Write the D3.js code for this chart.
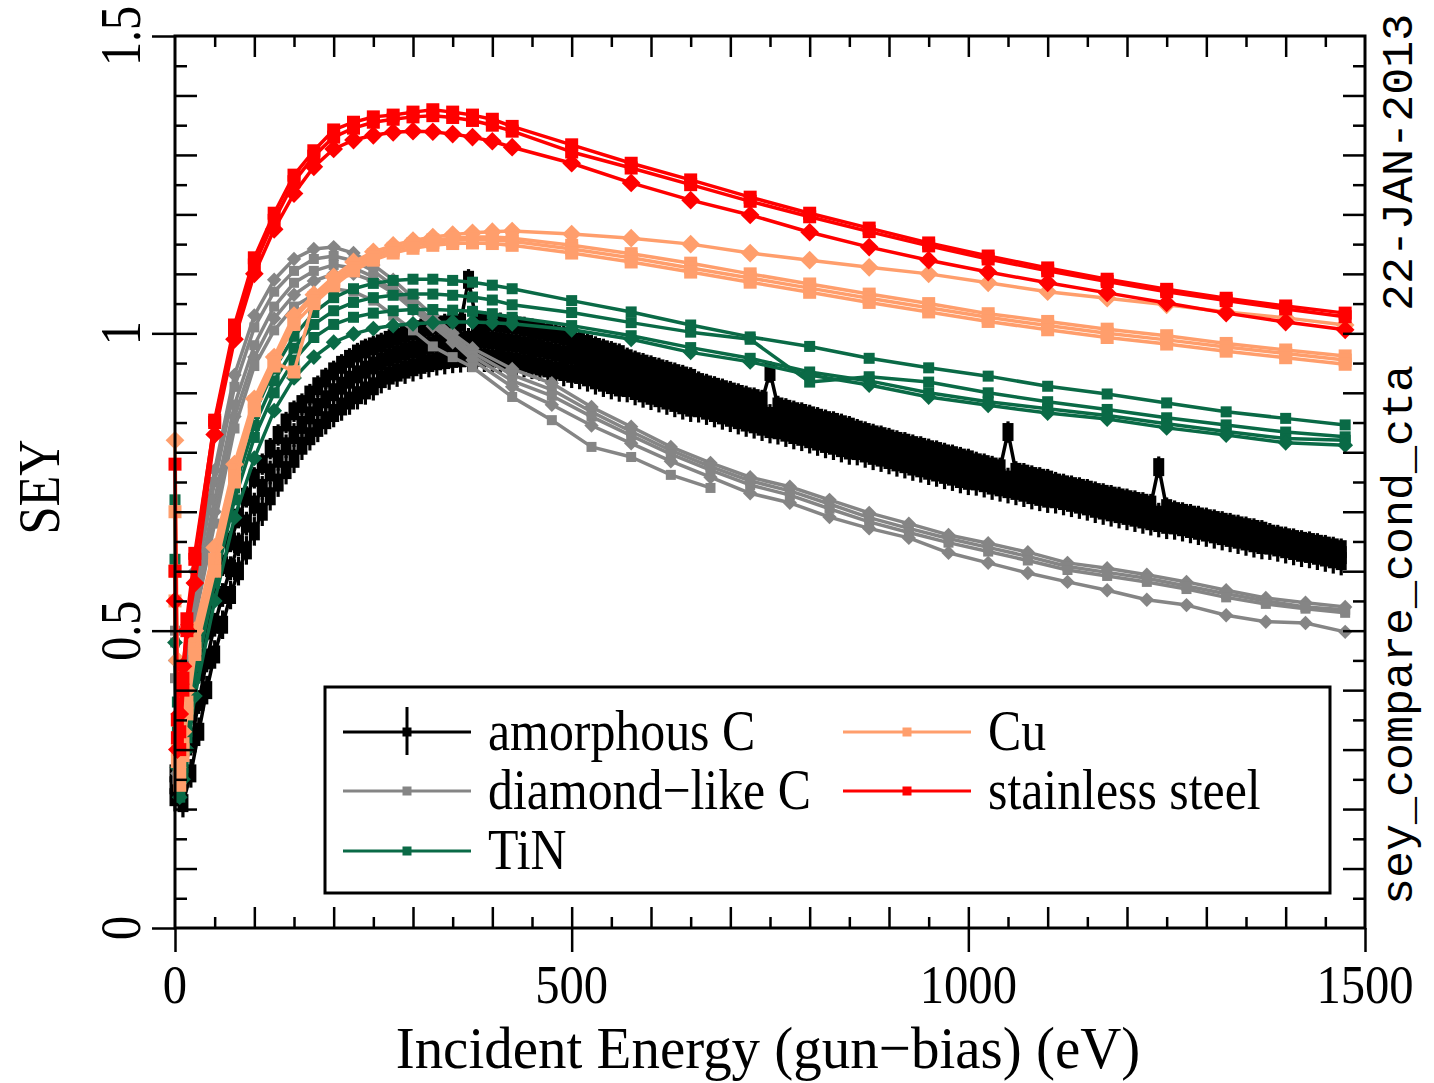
<!DOCTYPE html>
<html lang="en">
<head>
<meta charset="UTF-8" />
<title>SEY comparison</title>
<script src="https://d3js.org/d3.v7.min.js"></script>
<style>
  body { margin: 0; background: #fff; }
  svg { display: block; background: #fff; }
  .serif { font-family: "Liberation Serif", "Times New Roman", serif; fill: #000; }
  .mono { font-family: "Liberation Mono", "DejaVu Sans Mono", monospace; fill: #000; }
</style>
</head>
<body>
<svg id="chart" width="1434" height="1083"></svg>
<script>
// ---- data ----
const xTickLabels = [0, 500, 1000, 1500];
const yTickLabels = [0, 0.5, 1, 1.5];
const legendNames = ["amorphous C", "diamond\u2212like C", "TiN", "Cu", "stainless steel"];

// energies (eV) used by TiN, Cu, stainless steel runs
const energyGrid = [0, 3, 6, 10, 15, 25, 50, 75, 100, 125, 150, 175, 200, 225, 250, 275, 300, 325, 350, 375, 400, 425,
  500, 575, 650, 725, 800, 875, 950, 1025, 1100, 1175, 1250, 1325, 1400, 1475];

const ssRun1 = [0.78, 0.35, 0.30, 0.40, 0.50, 0.62, 0.854, 1.014, 1.127, 1.202, 1.266, 1.307, 1.342, 1.355, 1.364, 1.367, 1.372, 1.376, 1.372, 1.367, 1.36, 1.348,
  1.317, 1.286, 1.258, 1.229, 1.202, 1.177, 1.152, 1.13, 1.11, 1.091, 1.074, 1.059, 1.046, 1.034];
const ssRun2 = [0.6, 0.32, 0.33, 0.42, 0.52, 0.63, 0.85, 1.005, 1.115, 1.19, 1.255, 1.298, 1.33, 1.345, 1.355, 1.36, 1.364, 1.366, 1.363, 1.358, 1.35, 1.34,
  1.305, 1.278, 1.25, 1.222, 1.196, 1.171, 1.147, 1.125, 1.105, 1.087, 1.07, 1.055, 1.041, 1.028];
const ssRun3 = [0.55, 0.3, 0.36, 0.44, 0.5, 0.58, 0.83, 0.99, 1.1, 1.175, 1.235, 1.28, 1.31, 1.325, 1.333, 1.338, 1.34, 1.339, 1.335, 1.33, 1.323, 1.313,
  1.286, 1.253, 1.224, 1.199, 1.17, 1.145, 1.123, 1.103, 1.085, 1.068, 1.051, 1.034, 1.019, 1.006];

const cuRun1 = [0.82, 0.45, 0.3, 0.33, 0.4, 0.5, 0.64, 0.78, 0.89, 0.96, 1.03, 1.065, 1.095, 1.12, 1.137, 1.148, 1.156, 1.162, 1.166, 1.169, 1.171, 1.172,
  1.167, 1.16, 1.15, 1.135, 1.123, 1.111, 1.1, 1.085, 1.07, 1.059, 1.048, 1.036, 1.026, 1.014];
const cuRun2 = [0.7, 0.35, 0.26, 0.3, 0.38, 0.48, 0.62, 0.77, 0.885, 0.955, 1.025, 1.06, 1.09, 1.115, 1.132, 1.143, 1.151, 1.157, 1.16, 1.162, 1.162, 1.16,
  1.148, 1.134, 1.118, 1.1, 1.083, 1.066, 1.05, 1.033, 1.02, 1.007, 0.996, 0.983, 0.972, 0.962];
const cuRun3 = [0.6, 0.3, 0.28, 0.31, 0.37, 0.47, 0.61, 0.76, 0.875, 0.952, 0.935, 1.055, 1.085, 1.11, 1.128, 1.14, 1.148, 1.153, 1.156, 1.158, 1.157, 1.155,
  1.142, 1.127, 1.11, 1.093, 1.076, 1.059, 1.043, 1.027, 1.013, 1.0, 0.989, 0.977, 0.966, 0.955];
const cuRun4 = [0.55, 0.28, 0.24, 0.29, 0.36, 0.46, 0.6, 0.75, 0.87, 0.945, 1.015, 1.05, 1.08, 1.105, 1.123, 1.135, 1.143, 1.148, 1.151, 1.152, 1.151, 1.148,
  1.135, 1.12, 1.103, 1.086, 1.069, 1.052, 1.036, 1.02, 1.006, 0.993, 0.982, 0.97, 0.959, 0.948];

const tinRun1 = [0.72, 0.38, 0.24, 0.28, 0.35, 0.46, 0.62, 0.76, 0.865, 0.94, 0.995, 1.035, 1.06, 1.075, 1.084, 1.089, 1.091, 1.091, 1.089, 1.086, 1.081, 1.075,
  1.055, 1.036, 1.014, 0.994, 0.978, 0.958, 0.942, 0.928, 0.911, 0.898, 0.883, 0.868, 0.857, 0.846];
const tinRun2 = [0.62, 0.33, 0.23, 0.27, 0.33, 0.44, 0.6, 0.74, 0.845, 0.92, 0.975, 1.015, 1.038, 1.052, 1.06, 1.064, 1.066, 1.066, 1.064, 1.061, 1.056, 1.048,
  1.035, 1.018, 1.002, 0.99, 0.918, 0.927, 0.918, 0.9, 0.885, 0.872, 0.858, 0.846, 0.834, 0.826];
const tinRun3 = [0.55, 0.3, 0.22, 0.26, 0.32, 0.42, 0.58, 0.72, 0.825, 0.9, 0.955, 0.993, 1.015, 1.027, 1.034, 1.038, 1.04, 1.04, 1.039, 1.037, 1.033, 1.027,
  1.013, 0.996, 0.976, 0.958, 0.935, 0.92, 0.9, 0.885, 0.873, 0.862, 0.848, 0.835, 0.823, 0.82];
const tinRun4 = [0.48, 0.27, 0.22, 0.25, 0.3, 0.39, 0.55, 0.69, 0.79, 0.87, 0.925, 0.96, 0.985, 0.999, 1.008, 1.013, 1.016, 1.018, 1.019, 1.019, 1.018, 1.016,
  1.006, 0.99, 0.968, 0.952, 0.93, 0.913, 0.893, 0.879, 0.866, 0.856, 0.841, 0.829, 0.816, 0.812];

// diamond-like C
const dlcEnergy = [0, 3, 6, 10, 15, 25, 50, 75, 100, 125, 150, 175, 200, 225, 250, 275, 300, 325, 350, 375,
  425, 475, 525, 575, 625, 675, 725, 775, 825, 875, 925, 975, 1025, 1075, 1125, 1175, 1225, 1275, 1325, 1375, 1425, 1475];
const dlcRun1 = [0.55, 0.3, 0.28, 0.35, 0.45, 0.6, 0.77, 0.93, 1.03, 1.09, 1.125, 1.142, 1.145, 1.135, 1.115, 1.09, 1.06, 1.03, 1.0, 0.975,
  0.94, 0.916, 0.876, 0.843, 0.809, 0.782, 0.758, 0.742, 0.72, 0.698, 0.68, 0.661, 0.647, 0.632, 0.614, 0.605, 0.594, 0.582, 0.568, 0.555, 0.547, 0.54];
const dlcRun2 = [0.5, 0.28, 0.27, 0.33, 0.43, 0.58, 0.75, 0.91, 1.01, 1.07, 1.105, 1.125, 1.13, 1.122, 1.105, 1.08, 1.05, 1.022, 0.995, 0.968,
  0.93, 0.905, 0.868, 0.835, 0.803, 0.776, 0.752, 0.735, 0.713, 0.69, 0.672, 0.655, 0.64, 0.625, 0.608, 0.598, 0.588, 0.575, 0.562, 0.55, 0.54, 0.535];
const dlcRun3 = [0.48, 0.27, 0.26, 0.32, 0.41, 0.56, 0.72, 0.88, 0.98, 1.045, 1.085, 1.105, 1.115, 1.11, 1.095, 1.072, 1.045, 1.018, 0.99, 0.962,
  0.92, 0.895, 0.86, 0.828, 0.797, 0.77, 0.745, 0.728, 0.705, 0.683, 0.665, 0.648, 0.633, 0.618, 0.602, 0.592, 0.582, 0.57, 0.556, 0.545, 0.537, 0.53];
const dlcRun4 = [0.45, 0.26, 0.25, 0.3, 0.4, 0.54, 0.7, 0.86, 0.96, 1.025, 1.065, 1.088, 1.1, 1.1, 1.088, 1.068, 1.04, 1.012, 0.985, 0.955,
  0.91, 0.88, 0.845, 0.815, 0.785, 0.758, 0.731, 0.715, 0.691, 0.672, 0.656, 0.631, 0.614, 0.597, 0.582, 0.568, 0.552, 0.543, 0.526, 0.515, 0.513, 0.498];
const dlcRun5 = [0.42, 0.25, 0.24, 0.29, 0.39, 0.52, 0.68, 0.84, 0.945, 1.005, 1.045, 1.065, 1.075, 1.07, 1.055, 1.03, 1.005, 0.978, 0.96, 0.943,
  0.893, 0.854, 0.809, 0.792, 0.762, 0.74];

// amorphous C, 10 eV steps
const acEnergy = [0, 10, 20, 30, 40, 50, 60, 70, 80, 90, 100, 110, 120, 130, 140, 150, 160, 170, 180, 190,
  200, 210, 220, 230, 240, 250, 260, 270, 280, 290, 300, 310, 320, 330, 340, 350, 360, 370, 380, 390,
  400, 410, 420, 430, 440, 450, 460, 470, 480, 490, 500, 510, 520, 530, 540, 550, 560, 570, 580, 590,
  600, 610, 620, 630, 640, 650, 660, 670, 680, 690, 700, 710, 720, 730, 740, 750, 760, 770, 780, 790,
  800, 810, 820, 830, 840, 850, 860, 870, 880, 890, 900, 910, 920, 930, 940, 950, 960, 970, 980, 990,
  1000, 1010, 1020, 1030, 1040, 1050, 1060, 1070, 1080, 1090, 1100, 1110, 1120, 1130, 1140, 1150, 1160, 1170, 1180, 1190,
  1200, 1210, 1220, 1230, 1240, 1250, 1260, 1270, 1280, 1290, 1300, 1310, 1320, 1330, 1340, 1350, 1360, 1370, 1380, 1390,
  1400, 1410, 1420, 1430, 1440, 1450, 1460, 1470];
const acRunA = [0.26, 0.31, 0.36, 0.43, 0.50, 0.56, 0.61, 0.65, 0.69, 0.725,
  0.757, 0.78, 0.806, 0.829, 0.85, 0.869, 0.881, 0.897, 0.911, 0.924,
  0.936, 0.947, 0.957, 0.966, 0.973, 0.978, 0.983, 0.989, 0.994, 0.999,
  1.003, 1.007, 1.01, 1.013, 1.015, 1.017, 1.018, 1.09, 1.019, 1.019,
  1.018, 1.017, 1.015, 1.013, 1.01, 1.007, 1.004, 1.001, 0.998, 0.995,
  0.992, 0.986, 0.982, 0.977, 0.973, 0.969, 0.965, 0.958, 0.953, 0.949,
  0.945, 0.941, 0.937, 0.933, 0.929, 0.925, 0.918, 0.914, 0.91, 0.906,
  0.902, 0.898, 0.894, 0.891, 0.887, 0.935, 0.877, 0.873, 0.869, 0.866,
  0.862, 0.858, 0.854, 0.851, 0.847, 0.843, 0.838, 0.834, 0.83, 0.827,
  0.823, 0.819, 0.816, 0.812, 0.809, 0.805, 0.802, 0.798, 0.795, 0.791,
  0.788, 0.783, 0.78, 0.776, 0.773, 0.834, 0.767, 0.764, 0.76, 0.757,
  0.754, 0.749, 0.746, 0.743, 0.74, 0.737, 0.733, 0.73, 0.727, 0.724,
  0.721, 0.718, 0.715, 0.712, 0.775, 0.706, 0.701, 0.698, 0.695, 0.692,
  0.689, 0.686, 0.683, 0.68, 0.677, 0.674, 0.671, 0.668, 0.663, 0.66,
  0.657, 0.654, 0.651, 0.649, 0.646, 0.643, 0.64, 0.637];
const acRunB = [0.24, 0.26, 0.31, 0.38, 0.45, 0.51, 0.56, 0.605, 0.645, 0.68,
  0.712, 0.74, 0.766, 0.789, 0.81, 0.829, 0.846, 0.862, 0.876, 0.889,
  0.901, 0.912, 0.922, 0.931, 0.939, 0.946, 0.953, 0.959, 0.964, 0.969,
  0.973, 0.977, 0.98, 0.983, 0.985, 0.987, 0.988, 0.989, 0.989, 0.989,
  0.988, 0.987, 0.985, 0.983, 0.98, 0.977, 0.974, 0.971, 0.968, 0.965,
  0.962, 0.958, 0.954, 0.949, 0.945, 0.941, 0.937, 0.933, 0.928, 0.924,
  0.920, 0.916, 0.912, 0.908, 0.904, 0.900, 0.896, 0.892, 0.888, 0.884,
  0.880, 0.876, 0.872, 0.869, 0.865, 0.861, 0.857, 0.853, 0.849, 0.846,
  0.842, 0.838, 0.834, 0.831, 0.827, 0.823, 0.820, 0.816, 0.812, 0.809,
  0.805, 0.801, 0.798, 0.794, 0.791, 0.787, 0.784, 0.780, 0.777, 0.773,
  0.770, 0.767, 0.764, 0.760, 0.757, 0.754, 0.751, 0.748, 0.744, 0.741,
  0.738, 0.735, 0.732, 0.729, 0.726, 0.723, 0.719, 0.716, 0.713, 0.710,
  0.707, 0.704, 0.701, 0.698, 0.695, 0.692, 0.689, 0.686, 0.683, 0.680,
  0.677, 0.674, 0.671, 0.668, 0.665, 0.662, 0.659, 0.656, 0.653, 0.650,
  0.647, 0.644, 0.641, 0.639, 0.636, 0.633, 0.630, 0.627];
const acRunC = [0.22, 0.21, 0.26, 0.33, 0.40, 0.46, 0.51, 0.56, 0.60, 0.635,
  0.667, 0.70, 0.726, 0.749, 0.77, 0.789, 0.811, 0.827, 0.841, 0.854,
  0.866, 0.877, 0.887, 0.896, 0.904, 0.911, 0.923, 0.929, 0.934, 0.939,
  0.943, 0.947, 0.95, 0.953, 0.955, 0.957, 0.958, 0.959, 0.959, 0.959,
  0.958, 0.957, 0.955, 0.953, 0.95, 0.947, 0.944, 0.941, 0.938, 0.935,
  0.932, 0.93, 0.926, 0.921, 0.917, 0.913, 0.909, 0.908, 0.903, 0.899,
  0.895, 0.891, 0.887, 0.883, 0.879, 0.875, 0.874, 0.87, 0.866, 0.862,
  0.858, 0.854, 0.85, 0.847, 0.843, 0.839, 0.837, 0.833, 0.829, 0.826,
  0.822, 0.818, 0.814, 0.811, 0.807, 0.803, 0.802, 0.798, 0.794, 0.791,
  0.787, 0.783, 0.78, 0.776, 0.773, 0.769, 0.766, 0.762, 0.759, 0.755,
  0.752, 0.751, 0.748, 0.744, 0.741, 0.738, 0.735, 0.732, 0.728, 0.725,
  0.722, 0.721, 0.718, 0.715, 0.712, 0.709, 0.705, 0.702, 0.699, 0.696,
  0.693, 0.69, 0.687, 0.684, 0.681, 0.678, 0.677, 0.674, 0.671, 0.668,
  0.665, 0.662, 0.659, 0.656, 0.653, 0.65, 0.647, 0.644, 0.643, 0.64,
  0.637, 0.634, 0.631, 0.629, 0.626, 0.623, 0.62, 0.617];
const acErr = [0.018, 0.02, 0.024];

// ---- layout ----
const svg = d3.select("#chart");
const x = d3.scaleLinear().domain([0, 1500]).range([175, 1365]);
const y = d3.scaleLinear().domain([0, 1.5]).range([928, 36]);
const line = d3.line().x(d => x(d[0])).y(d => y(d[1]));
const pairs = (es, vs) => vs.map((v, i) => [es[i], v]);

const colors = {
  ac: "#000000",
  dlc: "#858585",
  tin: "#0a6a46",
  cu: "#ff9e6c",
  ss: "#ff0000"
};

const materials = [
  { key: "dlc", size: 10, runs: [
    { pts: pairs(dlcEnergy, dlcRun1), shape: "diamond" },
    { pts: pairs(dlcEnergy, dlcRun2), shape: "square" },
    { pts: pairs(dlcEnergy, dlcRun3), shape: "square" },
    { pts: pairs(dlcEnergy, dlcRun4), shape: "diamond" },
    { pts: pairs(dlcEnergy, dlcRun5), shape: "square" }] },
  { key: "tin", size: 11, runs: [
    { pts: pairs(energyGrid, tinRun1), shape: "square" },
    { pts: pairs(energyGrid, tinRun2), shape: "square" },
    { pts: pairs(energyGrid, tinRun3), shape: "square" },
    { pts: pairs(energyGrid, tinRun4), shape: "diamond" }] },
  { key: "cu", size: 13, runs: [
    { pts: pairs(energyGrid, cuRun1), shape: "diamond" },
    { pts: pairs(energyGrid, cuRun2), shape: "square" },
    { pts: pairs(energyGrid, cuRun3), shape: "square" },
    { pts: pairs(energyGrid, cuRun4), shape: "square" }] },
  { key: "ss", size: 13, runs: [
    { pts: pairs(energyGrid, ssRun1), shape: "square" },
    { pts: pairs(energyGrid, ssRun2), shape: "square" },
    { pts: pairs(energyGrid, ssRun3), shape: "diamond" }] }
];

const plot = svg.append("g");

// amorphous C: dense "+" points with error bars
[acRunA, acRunB, acRunC].forEach((run, r) => {
  const pts = pairs(acEnergy, run);
  const g = plot.append("g");
  g.append("path").datum(pts).attr("d", line)
    .attr("fill", "none").attr("stroke", colors.ac).attr("stroke-width", 3.5);
  g.selectAll("line.err").data(pts).enter().append("line")
    .attr("x1", d => x(d[0])).attr("x2", d => x(d[0]))
    .attr("y1", d => y(d[1] - acErr[r])).attr("y2", d => y(d[1] + acErr[r]))
    .attr("stroke", colors.ac).attr("stroke-width", 3.2);
  g.selectAll("rect").data(pts).enter().append("rect")
    .attr("x", d => x(d[0]) - 5.5).attr("y", d => y(d[1]) - 9)
    .attr("width", 11).attr("height", 18).attr("fill", colors.ac);
});

function drawMarker(g, shape, cx, cy, s, color) {
  if (shape === "square") {
    g.append("rect").attr("x", cx - s / 2).attr("y", cy - s / 2)
      .attr("width", s).attr("height", s).attr("fill", color);
  } else {
    const h = s * 0.72;
    g.append("path").attr("d", `M${cx},${cy - h}L${cx + h},${cy}L${cx},${cy + h}L${cx - h},${cy}Z`)
      .attr("fill", color);
  }
}

materials.forEach(m => {
  const col = colors[m.key];
  m.runs.forEach(run => {
    const g = plot.append("g");
    g.append("path").datum(run.pts).attr("d", line)
      .attr("fill", "none").attr("stroke", col).attr("stroke-width", 3.5)
      .attr("stroke-linejoin", "round");
    run.pts.forEach(p => drawMarker(g, run.shape, x(p[0]), y(p[1]), m.size, col));
  });
});

// ---- axes frame and ticks ----
function ticks(axis, tr, vals, size) {
  svg.append("g").attr("transform", tr)
    .call(axis.tickValues(vals).tickSize(size).tickFormat(""))
    .call(g => {
      g.select(".domain").remove();
      g.selectAll("line").attr("stroke", "#000").attr("stroke-width", 2.5);
    });
}
const xSmall = d3.range(50, 1500, 100);
const xMed = d3.range(100, 1500, 100);
const ySmall = d3.range(0.05, 1.5, 0.1);
const yMed = d3.range(0.1, 1.5, 0.1);

ticks(d3.axisBottom(x), "translate(0,928)", xSmall, -11);
ticks(d3.axisBottom(x), "translate(0,928)", xMed, -21);
ticks(d3.axisBottom(x), "translate(0,928)", xTickLabels, 24);
ticks(d3.axisTop(x), "translate(0,36)", xSmall, -11);
ticks(d3.axisTop(x), "translate(0,36)", xMed, -21);
ticks(d3.axisLeft(y), "translate(175,0)", ySmall, -12);
ticks(d3.axisLeft(y), "translate(175,0)", yMed, -22);
ticks(d3.axisLeft(y), "translate(175,0)", yTickLabels, 23);
ticks(d3.axisRight(y), "translate(1365,0)", ySmall, -12);
ticks(d3.axisRight(y), "translate(1365,0)", yMed, -22);

svg.append("rect").attr("x", 175).attr("y", 36).attr("width", 1190).attr("height", 892)
  .attr("fill", "none").attr("stroke", "#000").attr("stroke-width", 3);

// tick labels
svg.selectAll("text.xl").data(xTickLabels).enter().append("text")
  .attr("class", "serif").attr("font-size", 54).attr("text-anchor", "middle")
  .attr("transform", d => `translate(${x(d)},1003) scale(0.9,1)`)
  .text(d => d);
svg.selectAll("text.yl").data(yTickLabels).enter().append("text")
  .attr("class", "serif").attr("font-size", 58).attr("text-anchor", "middle")
  .attr("transform", d => `translate(140,${y(d)}) rotate(-90) scale(0.83,1)`)
  .text(d => d);

// axis titles
svg.append("text").attr("class", "serif").attr("font-size", 60).attr("text-anchor", "middle")
  .attr("transform", "translate(768,1068) scale(0.95,1)")
  .text("Incident Energy (gun\u2212bias) (eV)");
svg.append("text").attr("class", "serif").attr("font-size", 60).attr("text-anchor", "middle")
  .attr("transform", "translate(59,487) rotate(-90) scale(0.84,1)")
  .text("SEY");
svg.append("text").attr("class", "mono").attr("font-size", 45)
  .attr("transform", "translate(1412,905) rotate(-90)")
  .attr("xml:space", "preserve")
  .text("sey_compare_cond_cta  22-JAN-2013");

// ---- legend ----
const leg = svg.append("g");
leg.append("rect").attr("x", 325).attr("y", 687).attr("width", 1005).attr("height", 206)
  .attr("fill", "#fff").attr("stroke", "#000").attr("stroke-width", 3);
const legKeys = ["ac", "dlc", "tin", "cu", "ss"];
const legPos = [[343, 732], [343, 791], [343, 851], [843, 732], [843, 791]];
legKeys.forEach((k, i) => {
  const [lx, ly] = legPos[i];
  leg.append("line").attr("x1", lx).attr("x2", lx + 128).attr("y1", ly).attr("y2", ly)
    .attr("stroke", colors[k]).attr("stroke-width", 3);
  if (k === "ac") {
    leg.append("line").attr("x1", lx + 64).attr("x2", lx + 64).attr("y1", ly - 25).attr("y2", ly + 23)
      .attr("stroke", colors[k]).attr("stroke-width", 3);
  }
  leg.append("rect").attr("x", lx + 64 - 4.5).attr("y", ly - 4.5).attr("width", 9).attr("height", 9)
    .attr("fill", colors[k]);
  leg.append("text").attr("class", "serif").attr("font-size", 56)
    .attr("transform", `translate(${lx + 145},${ly + 18}) scale(0.89,1)`)
    .text(legendNames[i]);
});
</script>
</body>
</html>
